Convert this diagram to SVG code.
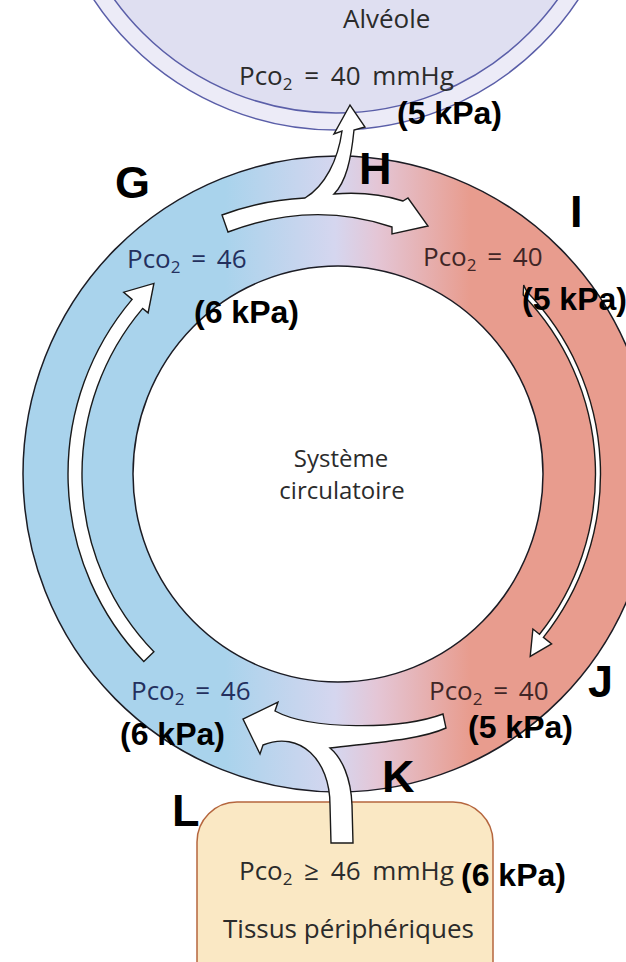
<svg xmlns="http://www.w3.org/2000/svg" width="626" height="962" viewBox="0 0 626 962">
<defs>
<linearGradient id="ringGrad" gradientUnits="userSpaceOnUse" x1="225" y1="0" x2="470" y2="0">
<stop offset="0" stop-color="#A9D3EC"/>
<stop offset="0.45" stop-color="#D5D6EF"/>
<stop offset="0.62" stop-color="#E4C6D6"/>
<stop offset="1" stop-color="#E89C8E"/>
</linearGradient>
<style>
.line{stroke:#1c1c24;stroke-width:1.5}
.arrow{fill:#ffffff;stroke:#1a1a1a;stroke-width:1.4;stroke-linejoin:miter}
.reg{font-family:"Open Sans","Liberation Sans",Arial,sans-serif}
.pco{font-size:26px;word-spacing:4px}
.bold{font-family:"Liberation Sans",Arial,sans-serif;font-weight:bold;fill:#000}
.kpa{font-size:32px}
.big{font-size:45px}
.blue{fill:#24305e}
.red{fill:#402626}
.dark{fill:#2b2b2b}
</style>
</defs>
<rect width="626" height="962" fill="#ffffff"/>

<g id="alveole">
<circle cx="336" cy="-160" r="290" fill="#ECEBF7" stroke="#5A5EA8" stroke-width="1.5"/>
<circle cx="336" cy="-160" r="273" fill="#DFDFF1" stroke="#5A5EA8" stroke-width="1.5"/>
<text class="reg dark" x="343" y="28" style="font-size:26px">Alvéole</text>
<text class="reg pco dark" x="239" y="85" style="word-spacing:5px">Pco<tspan font-size="17" dy="5">2</tspan><tspan dy="-5"> = 40 mmHg</tspan></text>
</g>

<g id="systeme-circulatoire">
<path class="line" fill="url(#ringGrad)" fill-rule="evenodd" d="M 23,474 A 315 318 0 1 0 653,474 A 315 318 0 1 0 23,474 Z M 133,474 A 205 208 0 1 0 543,474 A 205 208 0 1 0 133,474 Z"/>
<text class="reg dark" x="341" y="467" text-anchor="middle" style="font-size:24px">Système</text>
<text class="reg dark" x="342" y="499" text-anchor="middle" style="font-size:24px">circulatoire</text>
</g>

<g id="tissus">
<rect x="197" y="802" width="296" height="220" rx="40" ry="40" fill="#FAE8C4" stroke="#B5663E" stroke-width="1.5"/>
<text class="reg pco dark" x="239" y="880" style="word-spacing:5px">Pco<tspan font-size="17" dy="5">2</tspan><tspan dy="-5"> ≥ 46 mmHg</tspan></text>
<text class="reg dark" x="223" y="938" style="font-size:26px">Tissus périphériques</text>
</g>

<g id="connectors">
<path class="arrow" d="M 222,215 Q 262,200 305,198 C 325,186 338,160 342,131 L 334,134 L 350,105 L 365,127 L 354,130 C 351,160 346,182 334,194 Q 372,191 403,201 L 408,198 L 428,226 L 392,234 L 392,227 Q 312,200 228,232 Z"/>
<path class="arrow" d="M 443,714 C 400,730 310,730 275,711 L 278,702 L 243,719 L 260,754 L 263,745 C 300,730 330,760 330,805 L 331,843 L 353,843 L 352,805 C 351,778 342,758 330,748 C 370,743 420,740 446,728 Z"/>
<path class="arrow" d="M 153.9,651.8 L 143.8,661.6 A 270 270 0 0 1 132.1,299.4 L 123.7,292.2 L 153.9,283.4 L 148.1,312.9 L 142.7,308.4 A 256 256 0 0 0 153.9,651.8 Z"/>
<path class="arrow" stroke-width="1.2" d="M 523.7,285 L 526.8,291.6 A 262.5 262.5 0 0 1 543.4,637.4 L 551.6,643.9 L 530.2,656.4 L 532.9,629 L 539.5,634.3 A 257.5 257.5 0 0 0 523.2,295.1 Z"/>
</g>

<g id="G">
<text class="bold big" x="115" y="198">G</text>
<text class="reg pco blue" x="127" y="268">Pco<tspan font-size="17" dy="5">2</tspan><tspan dy="-5"> = 46</tspan></text>
<text class="bold kpa" x="194" y="323">(6 kPa)</text>
</g>
<g id="H">
<text class="bold big" x="359" y="184">H</text>
<text class="bold kpa" x="397" y="124">(5 kPa)</text>
</g>
<g id="I">
<text class="bold big" x="570" y="227">I</text>
<text class="reg pco red" x="423" y="266">Pco<tspan font-size="17" dy="5">2</tspan><tspan dy="-5"> = 40</tspan></text>
<text class="bold kpa" x="522" y="310">(5 kPa)</text>
</g>
<g id="J">
<text class="bold big" x="588" y="697">J</text>
<text class="reg pco red" x="429" y="700">Pco<tspan font-size="17" dy="5">2</tspan><tspan dy="-5"> = 40</tspan></text>
<text class="bold kpa" x="468" y="738">(5 kPa)</text>
</g>
<g id="K">
<text class="bold big" x="382" y="792">K</text>
</g>
<g id="L">
<text class="bold big" x="172" y="826">L</text>
<text class="reg pco blue" x="131" y="700">Pco<tspan font-size="17" dy="5">2</tspan><tspan dy="-5"> = 46</tspan></text>
<text class="bold kpa" x="120" y="745">(6 kPa)</text>
<text class="bold kpa" x="461" y="886">(6 kPa)</text>
</g>
</svg>
